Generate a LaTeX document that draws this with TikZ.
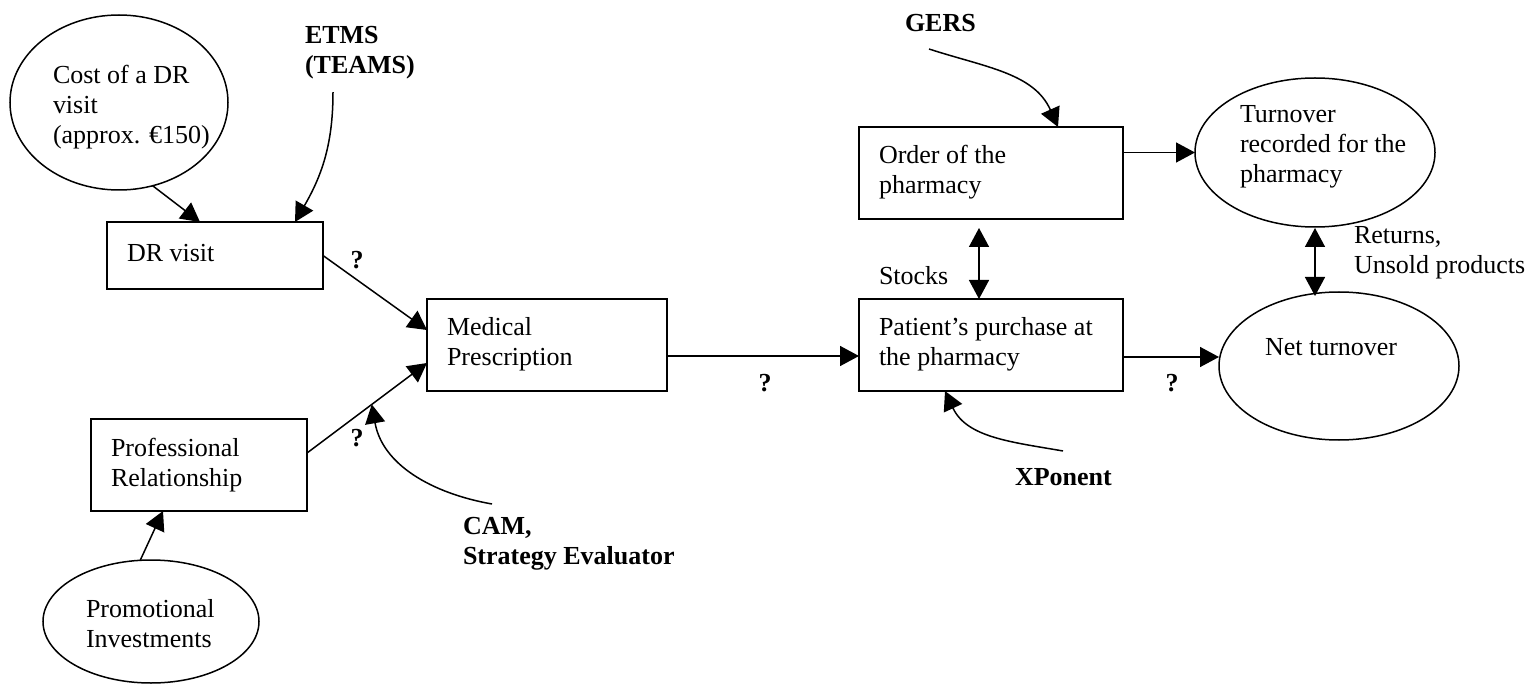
\documentclass[tikz,border=0pt]{standalone}
\usepackage{fontspec}
\setmainfont{Liberation Serif}
\usetikzlibrary{
    arrows.meta,
    shapes.geometric,
    calc,
    positioning
}

\begin{document}
\begin{tikzpicture}[x=0.5pt, y=-0.5pt,
    font=\fontsize{13}{15}\selectfont,
    every node/.style={inner sep=0pt, outer sep=0pt},
    box/.style={draw, line width=0.9pt, rectangle, align=flush left, inner xsep=10pt, inner ysep=0pt,
        execute at begin node=\strut, execute at end node=\strut},
    blob/.style={draw, line width=0.75pt, ellipse, inner sep=0pt},
    txt/.style={anchor=north west, align=left,
        execute at begin node=\strut, execute at end node=\strut},
    src/.style={txt, font=\fontsize{13}{15}\selectfont\bfseries},
    qm/.style={font=\fontsize{13}{15}\selectfont\bfseries},
    arr/.style={line width=0.75pt, -{Triangle[length=9.5pt, width=10pt]}},
    darr/.style={line width=0.75pt, {Triangle[length=9.5pt, width=10pt]}-{Triangle[length=9.5pt, width=10pt]}}]
                        \useasboundingbox (0, 0) rectangle (1531, 684);

                        \node[box, text width=88pt, minimum width=108pt, minimum height=33.5pt] (dr) at (215, 255.5) {DR visit};
                        \node[box, text width=100pt, minimum width=120pt, minimum height=46pt] (med) at (547, 345) {Medical\\Prescription};
                        \node[box, text width=88pt, minimum width=108pt, minimum height=46pt] (prof) at (199, 465) {Professional\\Relationship};
                        \node[box, text width=112pt, minimum width=132pt, minimum height=46pt] (ord) at (991, 173) {Order of the\\pharmacy};
                        \node[box, text width=112pt, minimum width=132pt, minimum height=46pt] (pat) at (991, 345) {Patient’s purchase at\\the pharmacy};

                        \node[blob, minimum width=109pt, minimum height=87.5pt] (cost) at (119, 102.5) {};
                        \node[blob, minimum width=108pt, minimum height=61.5pt] (promo) at (151, 621.5) {};
                        \node[blob, minimum width=120pt, minimum height=74.5pt] (turn) at (1315, 152.5) {};
                        \node[blob, minimum width=120pt, minimum height=74pt] (net) at (1339, 366) {};
                        \node[txt] (costtxt) at (53, 65) {Cost of a DR\\visit\\(approx. €150)};
                        \node[txt] (promotxt) at (86, 599) {Promotional\\Investments};
                        \node[txt] (turntxt) at (1240, 105) {Turnover\\recorded for the\\pharmacy};
                        \node[txt] (nettxt) at (1265, 334) {Net turnover};

                        \node[src] (etms) at (305, 26) {ETMS\\(TEAMS)};
                        \node[src] (gers) at (905, 11) {GERS};
                        \node[src] (cam) at (463, 517) {CAM,\\Strategy Evaluator};
                        \node[src] (xpo) at (1015, 464) {XPonent};
                        \node[txt] (stocks) at (879, 264) {Stocks};
                        \node[txt] (ret) at (1354, 226) {Returns,\\Unsold products};

                        \node[qm] (q1) at (357, 260) {?};
                        \node[qm] (q2) at (357, 438) {?};
                        \node[qm] (q3) at (765, 383) {?};
                        \node[qm] (q4) at (1172, 383) {?};

                        \coordinate (pm1) at ($(prof.north east)+(0, 34)$);
                        \coordinate (pm2) at ($(med.north west)+(0, 64)$);
                        \coordinate (camtip) at ($(pm1)!0.54!(pm2)$);

                        \draw
                        (cost.-68) edge[arr] ($(dr.north west)+(93, 0)$)
                        ($(etms.south west)+(28, 10)$) edge[arr, out=-90, in=60] ($(dr.north west)+(188, 0)$)
                        (dr.east) edge[arr] ($(med.north west)+(0, 31)$)
                        (pm1) edge[arr] (pm2)
                        (promo.100) edge[arr] ($(prof.south west)+(72, 0)$)
                        ($(cam.north west)+(29, -13)$) edge[arr, out=170, in=-80] (camtip)
                        ([yshift=-5.5pt]med.east) edge[arr] ([yshift=-5.5pt]pat.west)
                        ($(gers.south west)+(24, 8)$) edge[arr, out=-18, in=114] ($(ord.north west)+(199, 0)$)
                        ($(xpo.north west)+(48, -13)$) edge[arr, out=170, in=-65] ($(pat.south west)+(86, 0)$)
                        (ord.east |- turn.west) edge[arr] (turn.west)
                        ($(ord.south west)+(120, 9)$) edge[darr] ($(pat.north west)+(120, 0)$)
                        ($(turn.south)+(0, 1)$) edge[darr] ($(turn.south |- net.north)+(0, 4)$)
                        ([yshift=-6pt]pat.east) edge[arr] ([yshift=-6pt]pat.east -| net.west);
                    \end{tikzpicture}
\end{document}
